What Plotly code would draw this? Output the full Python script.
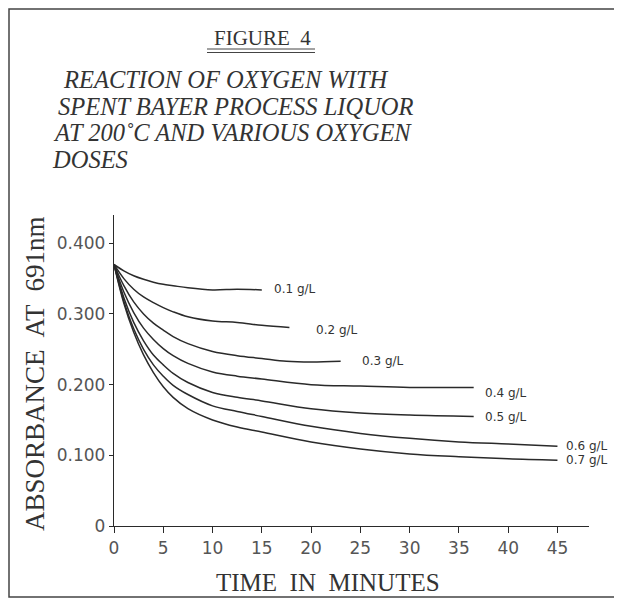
import plotly.graph_objects as go

# ---- data ----
dose_labels = ["0.1 g/L", "0.2 g/L", "0.3 g/L", "0.4 g/L", "0.5 g/L", "0.6 g/L", "0.7 g/L"]

times_01 = [0, 1, 2, 3, 4, 5, 6, 7.5, 10, 12.5, 15]
abs_01 = [0.370, 0.361, 0.354, 0.349, 0.345, 0.342, 0.340, 0.337, 0.334, 0.335, 0.334]

times_02 = [0, 1, 2, 3, 4, 5, 6, 7.5, 10, 12.5, 15, 17.8]
abs_02 = [0.370, 0.350, 0.335, 0.324, 0.316, 0.309, 0.303, 0.296, 0.290, 0.288, 0.284, 0.281]

times_03 = [0, 1, 2, 3, 4, 5, 6, 7.5, 10, 12.5, 15, 17.5, 20, 23]
abs_03 = [0.370, 0.340, 0.317, 0.300, 0.287, 0.277, 0.268, 0.258, 0.247, 0.241, 0.237, 0.233, 0.232, 0.233]

times_04 = [0, 1, 2, 3, 4, 5, 6, 7.5, 10, 12.5, 15, 20, 25, 30, 36.5]
abs_04 = [0.370, 0.331, 0.302, 0.280, 0.264, 0.251, 0.241, 0.230, 0.218, 0.212, 0.208, 0.200, 0.198, 0.196, 0.196]

times_05 = [0, 1, 2, 3, 4, 5, 6, 7.5, 10, 12.5, 15, 20, 25, 30, 36.5]
abs_05 = [0.370, 0.323, 0.288, 0.262, 0.242, 0.228, 0.216, 0.203, 0.189, 0.182, 0.177, 0.166, 0.160, 0.157, 0.155]

times_06 = [0, 1, 2, 3, 4, 5, 6, 7.5, 10, 12.5, 15, 20, 25, 30, 35, 40, 45]
abs_06 = [0.370, 0.318, 0.279, 0.250, 0.228, 0.212, 0.199, 0.186, 0.170, 0.162, 0.155, 0.141, 0.131, 0.124, 0.119, 0.116, 0.113]

times_07 = [0, 1, 2, 3, 4, 5, 6, 7.5, 10, 12.5, 15, 20, 25, 30, 35, 40, 45]
abs_07 = [0.370, 0.315, 0.274, 0.242, 0.217, 0.197, 0.182, 0.166, 0.150, 0.140, 0.133, 0.119, 0.109, 0.102, 0.098, 0.095, 0.093]

x_tick_vals = [0, 5, 10, 15, 20, 25, 30, 35, 40, 45]
y_tick_vals = [0, 0.1, 0.2, 0.3, 0.4]
y_tick_text = ["0", "0.100", "0.200", "0.300", "0.400"]

title_lines = ["REACTION OF OXYGEN WITH", "SPENT BAYER PROCESS LIQUOR",
               "AT 200\u02daC AND VARIOUS OXYGEN", "DOSES"]

series = [(times_01, abs_01), (times_02, abs_02), (times_03, abs_03), (times_04, abs_04),
          (times_05, abs_05), (times_06, abs_06), (times_07, abs_07)]

# label offsets (pixels) relative to each curve's end point
label_dx = [10, 25, 19, 9, 9, 7, 7]
label_dy = [1, -3, 0, -6, -1, 0, 0]

INK = "#2a2a2a"

fig = go.Figure()
for (t, a), name in zip(series, dose_labels):
    fig.add_trace(go.Scatter(x=t, y=a, mode="lines", name=name,
                             line=dict(color=INK, width=1.5, shape="spline", smoothing=1.0),
                             showlegend=False, hoverinfo="skip"))

annotations = []
for (t, a), name, dx, dy in zip(series, dose_labels, label_dx, label_dy):
    annotations.append(dict(x=t[-1], y=a[-1], xref="x", yref="y", text=name,
                            showarrow=False, xanchor="left", yanchor="middle",
                            xshift=dx, yshift=dy,
                            font=dict(family="DejaVu Sans", size=12, color="#333")))

# page geometry (the page body adds an 8px offset)
OFF = 8
PL, PR, PT, PB = 114, 589, 215, 526   # plot area in page pixels
FW, FH = 622 - OFF, 600 - OFF
pw, ph = PR - PL, PB - PT


def px(x):
    return (x - PL) / pw


def py(y):
    return (PB - y) / ph


annotations.append(dict(x=px(262), y=py(38), xref="paper", yref="paper", text="FIGURE  4",
                        showarrow=False, xanchor="center", yanchor="middle",
                        font=dict(family="Liberation Serif", size=21, color="#333")))
title_x = [61, 56, 51, 50]
title_y = [80, 107, 133, 159]
for line, tx, ty in zip(title_lines, title_x, title_y):
    annotations.append(dict(x=px(tx), y=py(ty), xref="paper", yref="paper",
                            text="<i>" + line + "</i>", showarrow=False,
                            xanchor="left", yanchor="middle",
                            font=dict(family="Liberation Serif", size=24.5, color="#333")))

annotations.append(dict(x=px(328), y=py(582), xref="paper", yref="paper",
                        text="TIME  IN  MINUTES", showarrow=False,
                        xanchor="center", yanchor="middle",
                        font=dict(family="Liberation Serif", size=25, color="#333")))
annotations.append(dict(x=px(35), y=py(374), xref="paper", yref="paper",
                        text="ABSORBANCE  AT  691nm", showarrow=False, textangle=-90,
                        xanchor="center", yanchor="middle",
                        font=dict(family="Liberation Serif", size=27, color="#333")))

shapes = [
    dict(type="rect", xref="paper", yref="paper", x0=px(9), x1=px(618), y0=py(597), y1=py(9),
         line=dict(color="#444", width=1.5)),
    dict(type="line", xref="paper", yref="paper", x0=px(207), x1=px(315), y0=py(49), y1=py(49),
         line=dict(color="#444", width=1)),
    dict(type="line", xref="paper", yref="paper", x0=px(207), x1=px(315), y0=py(52.5), y1=py(52.5),
         line=dict(color="#444", width=1)),
]

fig.update_layout(
    width=FW, height=FH,
    margin=dict(l=PL - OFF, r=FW - (PR - OFF), t=PT - OFF, b=FH - (PB - OFF)),
    paper_bgcolor="white", plot_bgcolor="white",
    annotations=annotations, shapes=shapes,
    showlegend=False,
)
fig.update_xaxes(range=[0, 48.2], tickvals=x_tick_vals, showgrid=False, zeroline=False,
                 showline=True, linecolor=INK, linewidth=1.3,
                 ticks="outside", ticklen=6, tickcolor=INK,
                 tickfont=dict(family="DejaVu Sans", size=17, color="#555"))
fig.update_yaxes(range=[0, 0.44], tickvals=y_tick_vals, ticktext=y_tick_text,
                 showgrid=False, zeroline=False,
                 showline=True, linecolor=INK, linewidth=1.3,
                 ticks="outside", ticklen=4, tickcolor=INK,
                 tickfont=dict(family="DejaVu Sans", size=17, color="#555"))

fig.write_html("out.html")
